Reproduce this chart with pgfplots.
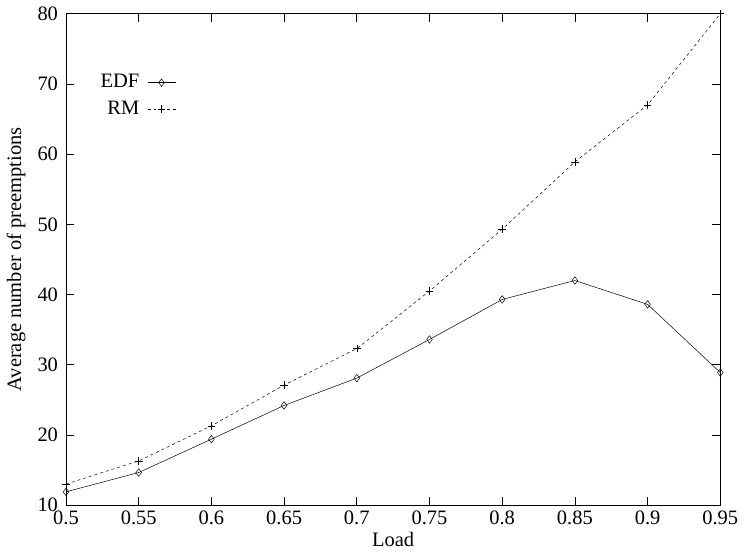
\documentclass[border=0pt]{standalone}
\usepackage{pgfplots}
\pgfplotsset{compat=1.18}
\usepackage{fontspec}
\setmainfont{Liberation Serif}
\begin{document}
\fontsize{20.5bp}{24bp}\selectfont
\begin{tikzpicture}[x=1bp,y=1bp]
\begin{axis}[
  scale only axis,
  width=655bp, height=492bp,
  xmin=0.5, xmax=0.95, ymin=10, ymax=80,
  xtick={0.5,0.55,0.6,0.65,0.7,0.75,0.8,0.85,0.9,0.95},
  xticklabels={0.5,0.55,0.6,0.65,0.7,0.75,0.8,0.85,0.9,0.95},
  ytick={10,20,30,40,50,60,70,80},
  tick align=inside,
  major tick length=8bp,
  tick style={black, line width=0.6pt},
  axis line style={line width=0.8pt},
  /pgf/number format/assume math mode=true,
  ticklabel style={font=\fontsize{20.5bp}{24bp}\selectfont},
  xticklabel style={yshift=1bp},
  yticklabel style={xshift=-1bp},
  label style={font=\fontsize{20.5bp}{24bp}\selectfont},
  xlabel={Load},
  ylabel={Average number of preemptions},
  xlabel style={yshift=7bp},
  ylabel style={yshift=-2bp},
  legend plot pos=right,
  legend cell align=right,
  legend style={draw=none, fill=none, at={(0.045,0.885)}, anchor=north west,
    font=\fontsize{20.5bp}{24bp}\selectfont, row sep=6bp},
  legend image code/.code={\path (0bp,0bp); \draw[#1] (6bp,0bp) -- (20bp,0bp) plot coordinates {(20bp,0bp)} -- (34bp,0bp);},
]
\addplot[black, line width=0.5pt, mark=diamond, mark size=3.8bp, mark options={solid, fill=white}] coordinates {
(0.5,11.9) (0.55,14.65) (0.6,19.4) (0.65,24.2) (0.7,28.1) (0.75,33.6) (0.8,39.3) (0.85,42.0) (0.9,38.6) (0.95,28.9)};
\addlegendentry{EDF}
\addplot[black, line width=0.5pt, dashed, mark=+, mark size=3.8bp, mark options={solid}] coordinates {
(0.5,13.0) (0.55,16.3) (0.6,21.3) (0.65,27.1) (0.7,32.3) (0.75,40.5) (0.8,49.3) (0.85,58.9) (0.9,67.0) (0.95,80.0)};
\addlegendentry{RM}
\end{axis}
\end{tikzpicture}
\end{document}
